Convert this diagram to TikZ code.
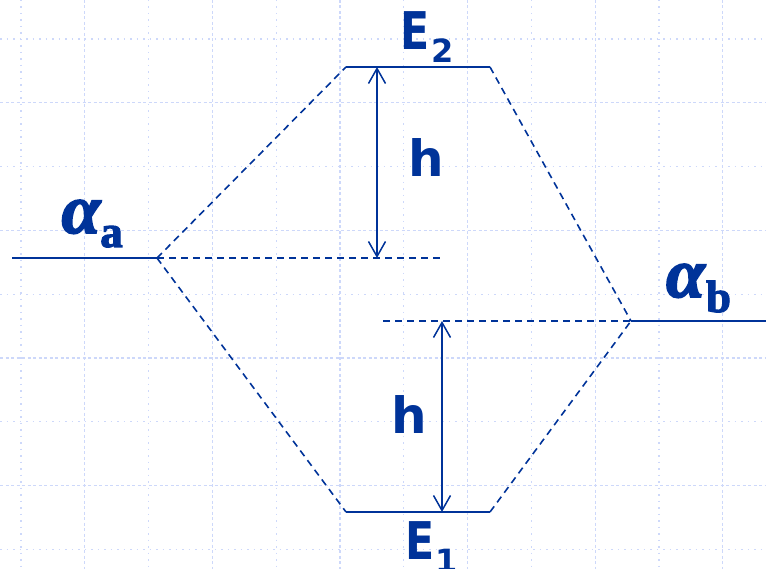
\documentclass[tikz,border=0pt]{standalone}
\usepackage{fontspec}
\usetikzlibrary{arrows.meta}
\newfontfamily\hfont{DejaVu Sans}
\newfontfamily\gfont{Liberation Serif}
\newfontfamily\alfont[FakeBold=2.5]{Liberation Serif}
\definecolor{ink}{RGB}{0,51,153}
\definecolor{gridc}{RGB}{205,216,250}
\tikzset{
  level/.style={ink, line width=2pt},
  guide/.style={ink, line width=1.6pt, dash pattern=on 7pt off 5pt},
  gap/.style={ink, line width=1.5pt, {Straight Barb[length=15pt,width=17pt]}-{Straight Barb[length=15pt,width=17pt]}},
  gdot/.style={gridc, line width=1.2pt, dash pattern=on 1.5pt off 5pt},
  gdash/.style={gridc, line width=1.2pt, dash pattern=on 3pt off 2.5pt},
  lbl/.style={ink, inner sep=0pt, anchor=base},
}
\begin{document}
\begin{tikzpicture}[x=1pt,y=-1pt]
\useasboundingbox (0,0) rectangle (766,569);
% background grid
\foreach \k in {0,...,11}{
  \pgfmathsetmacro{\gx}{21+63.8*\k}
  \ifodd\k \draw[gdash] (\gx,0) -- (\gx,569); \else \draw[gdot] (\gx,0) -- (\gx,569); \fi
}
\foreach \k in {0,...,8}{
  \pgfmathsetmacro{\gy}{39+63.8*\k}
  \ifodd\k \draw[gdash] (0,\gy) -- (766,\gy); \else \draw[gdot] (0,\gy) -- (766,\gy); \fi
}
% key points
\coordinate (AL) at (12,258);
\coordinate (A) at (157,258);
\coordinate (Aend) at (442,258);
\coordinate (E2L) at (346,67);
\coordinate (E2R) at (490,67);
\coordinate (E1L) at (346,512);
\coordinate (E1R) at (490,512);
\coordinate (B) at (631,321);
\coordinate (BR) at (766,321);
\coordinate (Bstart) at (383,321);
\coordinate (U1) at (377,67);
\coordinate (U2) at (377,258);
\coordinate (L1) at (442,321);
\coordinate (L2) at (442,512);
% levels
\draw[level] (AL) -- (A);
\draw[level] (E2L) -- (E2R);
\draw[level] (E1L) -- (E1R);
\draw[level] (B) -- (BR);
% correlation lines
\draw[guide] (A) -- (E2L);
\draw[guide] (A) -- (E1L);
\draw[guide] (E2R) -- (B);
\draw[guide] (E1R) -- (B);
\draw[guide] (A) -- (Aend);
\draw[guide] (Bstart) -- (B);
% gaps
\draw[gap] (U1) -- (U2);
\draw[gap] (L1) -- (L2);
% labels
\node[lbl] (e2) at (415,50) {\hfont\bfseries\fontsize{52}{52}\selectfont\scalebox{0.82}[1]{E}};
\node[lbl] (e2s) at (442.5,63) {\hfont\bfseries\fontsize{32}{32}\selectfont 2};
\node[lbl] (e1) at (420,559) {\hfont\bfseries\fontsize{52}{52}\selectfont\scalebox{0.82}[1]{E}};
\node[lbl] (e1s) at (447,572) {\hfont\bfseries\fontsize{32}{32}\selectfont 1};
\node[lbl] (h1) at (426,177) {\hfont\bfseries\fontsize{50}{50}\selectfont h};
\node[lbl] (h2) at (409,433) {\hfont\bfseries\fontsize{50}{50}\selectfont h};
\node[lbl] (aa) at (81,233) {\alfont\bfseries\itshape\fontsize{70}{70}\selectfont α};
\node[lbl] (aas) at (111.5,247) {\alfont\bfseries\fontsize{45}{45}\selectfont a};
\node[lbl] (ab) at (685.5,297) {\alfont\bfseries\itshape\fontsize{70}{70}\selectfont α};
\node[lbl] (abs) at (718.5,312) {\alfont\bfseries\fontsize{45}{45}\selectfont b};
\end{tikzpicture}
\end{document}
